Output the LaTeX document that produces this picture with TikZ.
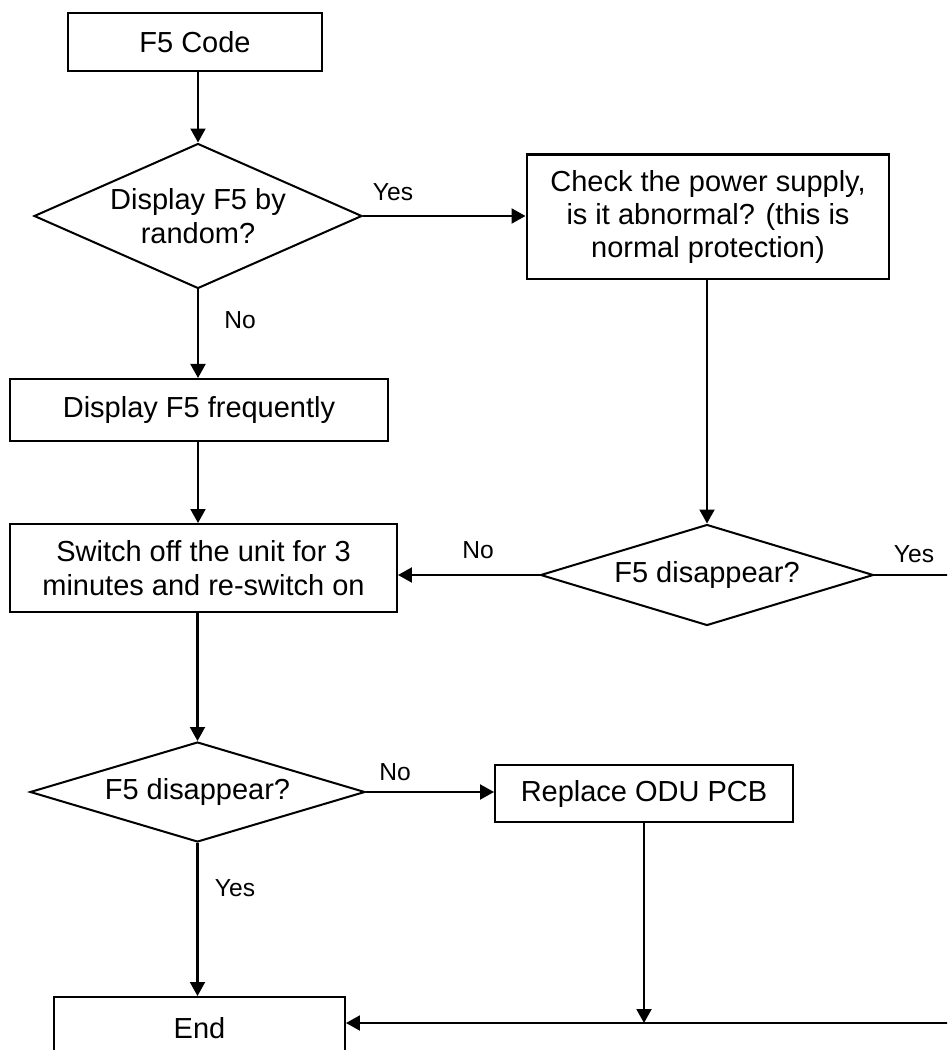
\documentclass[tikz,border=0pt]{standalone}
\usepackage{fontspec}
\setmainfont{Liberation Sans}
\usetikzlibrary{shapes.geometric,arrows.meta}
\begin{document}
\begin{tikzpicture}[x=0.02cm,y=-0.02cm,
  every node/.style={font=\fontsize{16.5}{19}\selectfont},
  box/.style={draw,line width=1.15pt,rectangle,inner sep=0pt,align=center},
  dia/.style={draw,line width=1.15pt,diamond,inner sep=0pt,align=center},
  lbl/.style={font=\fontsize{14}{16}\selectfont},
  conn/.style={line width=1.15pt},
  arr/.style={conn,-{Triangle[length=0.28cm,width=0.3cm]}}]
\useasboundingbox (0,0) rectangle (947,1050);
\clip (0,0) rectangle (947,1050);
% nodes
\node[box,minimum width=5.1cm,minimum height=1.16cm] (code) at (195,42) {F5 Code};
\node[dia,minimum width=6.56cm,minimum height=2.9cm,aspect=2.26] (d1) at (198,216) {Display F5 by\\random?};
\node[box,minimum width=7.26cm,minimum height=2.5cm] (chk) at (708,217) {Check the power supply,\\is it abnormal? (this is\\normal protection)};
\node[box,minimum width=7.56cm,minimum height=1.24cm] (freq) at (199,410) {Display F5 frequently};
\node[box,minimum width=7.74cm,minimum height=1.76cm] (sw) at (203.5,568) {Switch off the unit for 3\\minutes and re-switch on};
\node[dia,minimum width=6.66cm,minimum height=2.02cm,aspect=3.3] (d2) at (707,575) {F5 disappear?};
\node[dia,minimum width=6.7cm,minimum height=2.0cm,aspect=3.35] (d3) at (197.5,792) {F5 disappear?};
\node[box,minimum width=5.96cm,minimum height=1.14cm] (rep) at (644,793.5) {Replace ODU PCB};
\node[box,minimum width=5.82cm,minimum height=1.24cm] (end) at (199.5,1028) {End};
\coordinate (redge) at (960,575);
\coordinate (bedge) at (960,1023);
\coordinate (j) at (644,1023);
% connectors
\draw[arr] (code.south -| d1.north) -- (d1.north);
\draw[arr] (d1.east) -- (chk.west |- d1.east);
\draw[arr] (d1.south) -- (d1.south |- freq.north);
\draw[arr] (freq.south -| d1.south) -- (d1.south |- sw.north);
\draw[arr] (chk.south -| d2.north) -- (d2.north);
\draw[arr] (d2.west) -- (d2.west -| sw.east);
\draw[conn] (d2.east) -- (redge);
\draw[arr] (sw.south -| d3.north) -- (d3.north);
\draw[arr] (d3.east) -- (d3.east -| rep.west);
\draw[arr] (d3.south) -- (d3.south |- end.north);
\draw[arr] (rep.south) -- (j);
\draw[arr] (bedge) -- (bedge -| end.east);
% labels
\node[lbl] (l1) at (393,192) {Yes};
\node[lbl] (l2) at (240,320) {No};
\node[lbl] (l3) at (914,554) {Yes};
\node[lbl] (l4) at (478,550) {No};
\node[lbl] (l5) at (395,772) {No};
\node[lbl] (l6) at (235,888) {Yes};
\end{tikzpicture}
\end{document}
